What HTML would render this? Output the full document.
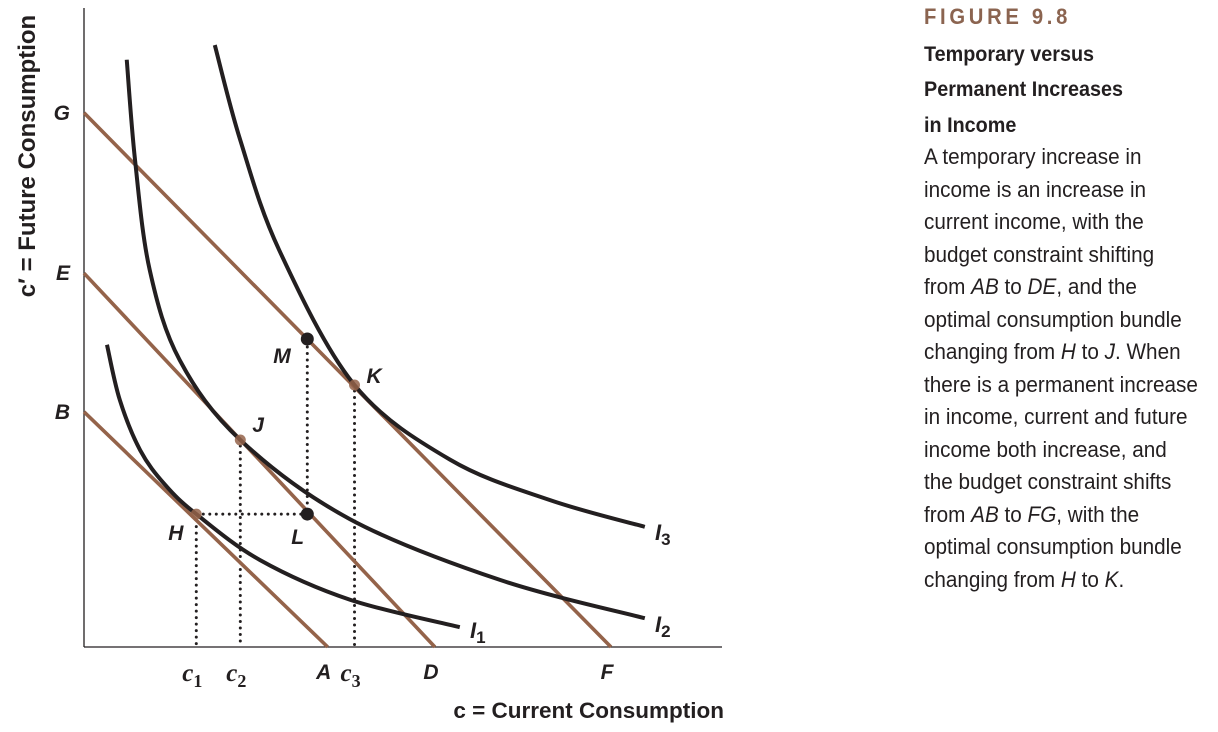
<!DOCTYPE html>
<html><head><meta charset="utf-8"><style>
html,body{margin:0;padding:0;background:#fff;}
#wrap{position:relative;width:1218px;height:732px;overflow:hidden;}
svg{position:absolute;left:0;top:0;}
#panel{position:absolute;left:924px;top:0;width:330px;transform-origin:0 0;transform:scaleX(0.92);font-family:"Liberation Sans",sans-serif;color:#231f20;}
.fig{position:absolute;top:4px;font-weight:bold;font-size:22px;letter-spacing:4px;color:#8b6450;white-space:nowrap;}
.tl{position:absolute;font-weight:bold;font-size:21.5px;white-space:nowrap;}
.bl{position:absolute;font-size:22.5px;white-space:nowrap;}
</style></head><body><div id="wrap">
<svg id="chart" width="1218" height="732"></svg>
<div id="panel">
<div class="fig">FIGURE 9.8</div>
<div class="tl" style="top:42px">Temporary versus</div>
<div class="tl" style="top:77px">Permanent Increases</div>
<div class="tl" style="top:113px">in Income</div>
<div id="body"></div>
</div>
</div>
<script>
const NS="http://www.w3.org/2000/svg";
const X0=84,X1=722,Y0=647,Y1=8;
// data arrays
const budgetNames=["AB","DE","FG"];
const xIntercepts=[38.2,55.0,82.6];
const yIntercepts=[36.8,58.5,83.6];
const xInterceptLabels=["A","D","F"];
const yInterceptLabels=["B","E","G"];
const curveNames=["I1","I2","I3"];
const I1x=[3.6,5.6,8.8,12.7,17.6,27.6,41.7,58.9];
const I1y=[47.3,38.7,30.8,25.4,20.8,13.6,7.4,3.1];
const I2x=[6.7,8.0,10.3,15.0,24.5,41.7,65.2,87.9];
const I2y=[91.9,76.2,59.0,44.9,32.4,20.0,10.5,4.5];
const I3x=[20.5,24.5,30.6,42.4,57.4,73.0,87.9];
const I3y=[94.2,79.3,62.1,41.0,29.3,23.0,18.8];
const pointNames=["H","J","K","M","L"];
const pointX=[17.6,24.5,42.4,35.0,35.0];
const pointY=[20.8,32.4,41.0,48.2,20.8];
const pointKind=["t","t","t","b","b"];
const cLabels=["c1","c2","c3"];
const cValues=[17.6,24.5,42.4];

const sx=v=>X0+v*(X1-X0)/100;
const sy=v=>Y0-v*(Y0-Y1)/100;
const svg=document.getElementById('chart');
function mk(t,a,p){const e=document.createElementNS(NS,t);for(const k in a)e.setAttribute(k,a[k]);(p||svg).appendChild(e);return e;}
const BR="#94634a",BK="#231f20";
let e=mk('line',{x1:X0,y1:Y1,x2:X0,y2:Y0,stroke:BK,'stroke-width':1.3});


e=mk('line',{x1:X0,y1:Y0,x2:X1,y2:Y0,stroke:BK,'stroke-width':1.3});


function dots(x1,y1,x2,y2,n){e=mk('line',{x1,y1,x2,y2,stroke:BK,'stroke-width':3,'stroke-dasharray':'0 6.5','stroke-linecap':'round'});

}
for(let i=0;i<3;i++)dots(sx(cValues[i]),sy(pointY[i])+6,sx(cValues[i]),Y0-2,'guide-'+cLabels[i]);
dots(sx(pointX[3]),sy(pointY[3])+8,sx(pointX[3]),sy(pointY[4])-6,'guide-m-l');
dots(sx(pointX[0])-6,sy(pointY[0]),sx(pointX[4])-6,sy(pointY[4]),'guide-h-l');
for(let i=0;i<3;i++){e=mk('line',{x1:X0,y1:sy(yIntercepts[i]),x2:sx(xIntercepts[i]),y2:Y0,stroke:BR,'stroke-width':3.6});

}
function smooth(xs,ys){const P=xs.map((v,i)=>[sx(v),sy(ys[i])]);let d=`M${P[0][0]},${P[0][1]}`;
for(let i=0;i<P.length-1;i++){const p0=P[i-1]||P[i],p1=P[i],p2=P[i+1],p3=P[i+2]||P[i+1];
d+=` C${p1[0]+(p2[0]-p0[0])/6},${p1[1]+(p2[1]-p0[1])/6} ${p2[0]-(p3[0]-p1[0])/6},${p2[1]-(p3[1]-p1[1])/6} ${p2[0]},${p2[1]}`;}return d;}
const CX=[I1x,I2x,I3x],CY=[I1y,I2y,I3y];
for(let i=0;i<3;i++){e=mk('path',{d:smooth(CX[i],CY[i]),fill:'none',stroke:BK,'stroke-width':4});

}
for(let i=0;i<pointNames.length;i++){const b=pointKind[i]=="b";
e=mk('circle',{cx:sx(pointX[i]),cy:sy(pointY[i]),r:b?6.5:5.5,fill:b?BK:BR,'fill-opacity':b?1:0.85});

}
function txt(s,x,y,o,n){const t=mk('text',Object.assign({x,y,'font-family':'"Liberation Sans",sans-serif','font-weight':'bold','font-style':'italic','font-size':21,fill:BK},o||{}));t.textContent=s;

return t;}
for(let i=0;i<3;i++){txt(yInterceptLabels[i],70,sy(yIntercepts[i])+7,{'text-anchor':'end'},'y-tick-'+yInterceptLabels[i]);
txt(xInterceptLabels[i],sx(xIntercepts[i])-4,679,{'text-anchor':'middle'},'x-tick-'+xInterceptLabels[i]);}
const lblOff={H:[-28,26],J:[12,-8],K:[12,-2],M:[-34,24],L:[-16,30]};
pointNames.forEach((n,i)=>txt(n,sx(pointX[i])+lblOff[n][0],sy(pointY[i])+lblOff[n][1],{},'point-label-'+n));
cLabels.forEach((c,i)=>{const t=txt('c',sx(cValues[i])-14,681,{'font-family':'"Liberation Serif",serif','font-size':25},'x-tick-'+c);
const s=document.createElementNS(NS,'tspan');s.setAttribute('dy',6);s.setAttribute('font-size',18);s.setAttribute('font-style','normal');s.textContent=c[1];t.appendChild(s);});
[[470,638],[655,632],[655,540]].forEach((p,i)=>{const t=txt('I',p[0],p[1],{'font-size':22},'curve-label-'+curveNames[i]);
const s=document.createElementNS(NS,'tspan');s.setAttribute('dy',5);s.setAttribute('font-size',17);s.setAttribute('font-style','normal');s.textContent=curveNames[i][1];t.appendChild(s);});
txt('c = Current Consumption',724,718,{'text-anchor':'end','font-style':'normal','font-size':22.5},'x-axis-title');
txt("c\u2032 = Future Consumption",0,0,{'text-anchor':'middle','font-style':'normal','font-size':24,transform:'translate(35,156) rotate(-90)'},'y-axis-title');
const lines=["A temporary increase in","income is an increase in","current income, with the","budget constraint shifting",
"from <i>AB</i> to <i>DE</i>, and the","optimal consumption bundle","changing from <i>H</i> to <i>J</i>. When",
"there is a permanent increase","in income, current and future","income both increase, and",
"the budget constraint shifts","from <i>AB</i> to <i>FG</i>, with the","optimal consumption bundle","changing from <i>H</i> to <i>K</i>."];
const body=document.getElementById('body');
lines.forEach((l,i)=>{const d=document.createElement('div');d.className='bl';d.style.top=(144+i*32.5)+'px';d.innerHTML=l;

body.appendChild(d);});
</script></body></html>
